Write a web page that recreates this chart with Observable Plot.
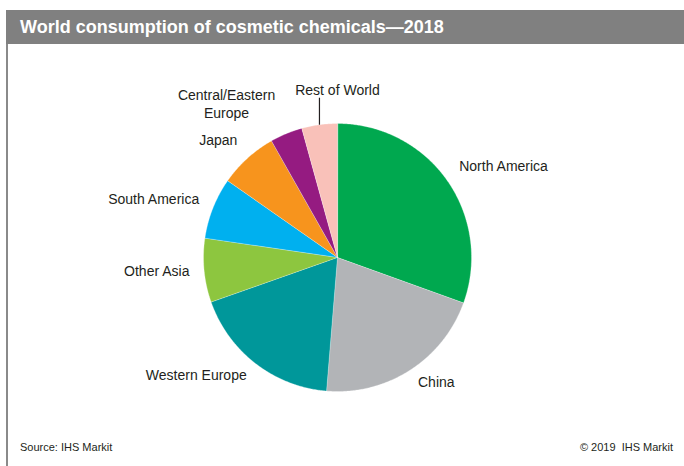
<!DOCTYPE html>
<html>
<head>
<meta charset="utf-8">
<script src="https://cdn.jsdelivr.net/npm/d3@7"></script>
<script src="https://cdn.jsdelivr.net/npm/@observablehq/plot@0.6"></script>
<style>
  html, body { margin: 0; padding: 0; background: #fff; }
  body { width: 684px; height: 466px; position: relative; overflow: hidden; font-family: "Liberation Sans", Arial, sans-serif; }
  #title { position: absolute; left: 6px; top: 10px; width: 678px; height: 34px; background: #808080; color: #fff; font-weight: bold; font-size: 18px; line-height: 34px; padding-left: 14px; box-sizing: border-box; }
  #border { position: absolute; left: 6px; top: 44px; width: 1.5px; height: 422px; background: #8a8a8a; }
  #chart { position: absolute; left: 0; top: 44px; }
  .foot { position: absolute; top: 441px; font-size: 11px; color: #231f20; white-space: pre; }
  #src { left: 20px; }
  #copy { right: 11px; }
</style>
</head>
<body>
<div id="title">World consumption of cosmetic chemicals—2018</div>
<div id="border"></div>
<div id="chart"></div>
<div class="foot" id="src">Source: IHS Markit</div>
<div class="foot" id="copy">© 2019  IHS Markit</div>
<script>
// ---- data ----
const regions = ["North America", "China", "Western Europe", "Other Asia", "South America", "Japan", "Central/Eastern Europe", "Rest of World"];
const shares = [30.5, 20.8, 18.3, 7.7, 7.4, 7.1, 3.9, 4.3];
const labels = ["North America", "China", "Western Europe", "Other Asia", "South America", "Japan", "Central/Eastern\nEurope", "Rest of World"];
const colors = ["#00a84f", "#b2b4b7", "#00979a", "#8dc63f", "#00b0ef", "#f7941d", "#951b81", "#f9c1b9"];

// ---- layout ----
const W = 684, H = 380, cx = 337, cy = 213, R = 134;

const data = regions.map((name, i) => ({name, share: shares[i], label: labels[i]}));
const arcs = d3.pie().sort(null).value(d => d.share)(data);

// slice polygons (data units, unit radius)
const pts = [];
arcs.forEach(a => {
  pts.push({name: a.data.name, x: 0, y: 0});
  const n = Math.max(2, Math.ceil((a.endAngle - a.startAngle) / (Math.PI / 360)));
  for (let k = 0; k <= n; k++) {
    const t = a.startAngle + (a.endAngle - a.startAngle) * k / n;
    pts.push({name: a.data.name, x: Math.sin(t), y: Math.cos(t)});
  }
});

// label placement
const big = [], small = [];
arcs.forEach(a => {
  const m = (a.startAngle + a.endAngle) / 2;
  const rec = {label: a.data.label, name: a.data.name, m, share: a.data.share};
  if (a.data.share >= 5) {
    const r = 1.11;
    rec.x = r * Math.sin(m);
    rec.y = r * Math.cos(m) + Math.max(0, Math.cos(m)) * 9 / R;
    rec.side = m < Math.PI ? "start" : "end";
    big.push(rec);
  } else small.push(rec);
});
const cee = small.find(d => d.name === "Central/Eastern Europe");
const row = small.find(d => d.name === "Rest of World");
// CEE: pushed outward above-left
cee.x = 1.4 * Math.sin(cee.m - 0.24); cee.y = 1.4 * Math.cos(cee.m - 0.24) + 3 / R;
// Rest of World: leader line straight up from edge at mid-angle
row.x0 = Math.sin(row.m); row.y0 = Math.cos(row.m);
row.y1 = row.y0 + 27 / R;

const font = {fontSize: 14, fill: "#231f20", fontFamily: "Liberation Sans, Arial, sans-serif"};

const chart = Plot.plot({
  width: W, height: H,
  margin: 0,
  x: {type: "linear", domain: [-1, 1], range: [cx - R, cx + R], axis: null},
  y: {type: "linear", domain: [-1, 1], range: [cy + R, cy - R], axis: null},
  color: {domain: regions, range: colors},
  style: {background: "transparent", overflow: "visible"},
  marks: [
    Plot.line(pts, {x: "x", y: "y", z: "name", fill: "name", stroke: "#ffffff", strokeWidth: 0.3, curve: "linear-closed"}),
    Plot.text(big.filter(d => d.side === "start"), {x: "x", y: "y", text: "label", textAnchor: "start", ...font}),
    Plot.text(big.filter(d => d.side === "end"), {x: "x", y: "y", text: "label", textAnchor: "end", ...font}),
    Plot.text([cee], {x: "x", y: "y", text: "label", textAnchor: "middle", lineHeight: 1.25, ...font}),
    Plot.link([row], {x1: "x0", y1: "y0", x2: "x0", y2: "y1", stroke: "#231f20", strokeWidth: 1.2}),
    Plot.text([row], {x: "x0", y: "y1", text: "label", textAnchor: "middle", lineAnchor: "bottom", dx: 18, dy: -3, ...font})
  ]
});
document.getElementById("chart").appendChild(chart);
</script>
</body>
</html>
